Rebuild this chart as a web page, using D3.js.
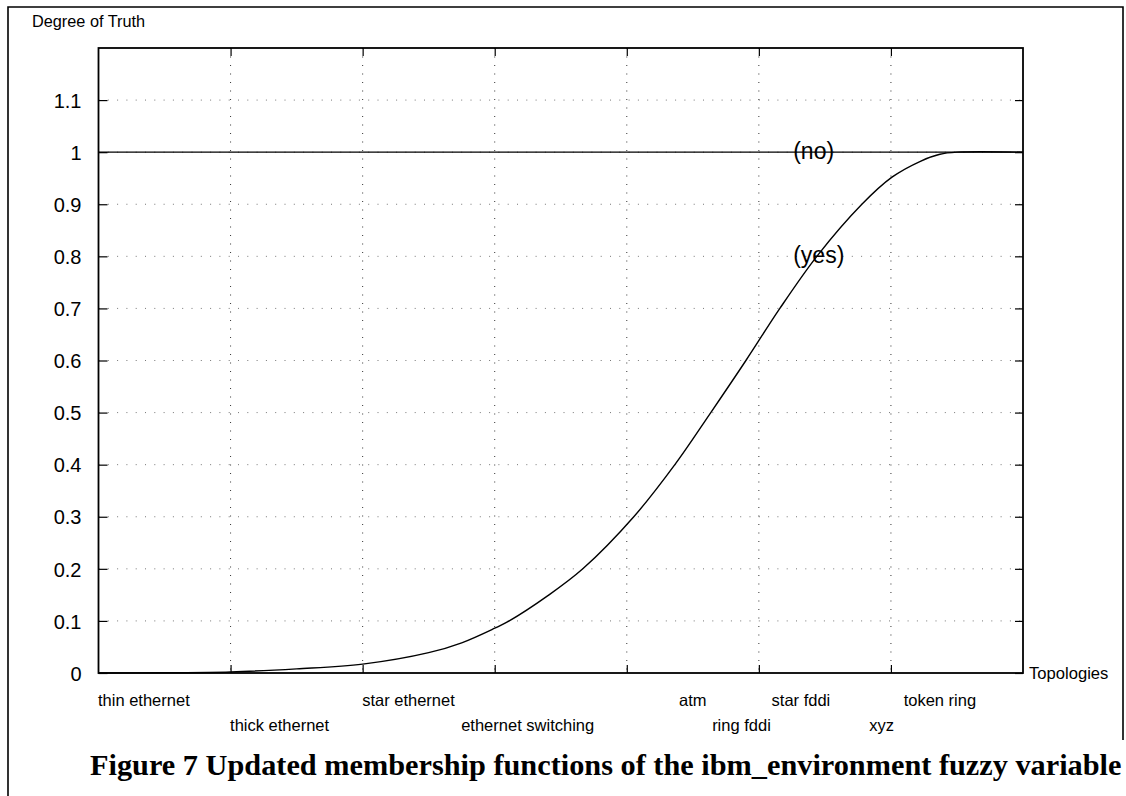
<!DOCTYPE html>
<html>
<head>
<meta charset="utf-8">
<script src="https://cdn.jsdelivr.net/npm/d3@7/dist/d3.min.js"></script>
<style>
  html, body { margin: 0; padding: 0; background: #fff; }
  svg { display: block; }
</style>
</head>
<body>
<div id="chart"></div>
<script>
// ---- data ----
const yTicks = [0, 0.1, 0.2, 0.3, 0.4, 0.5, 0.6, 0.7, 0.8, 0.9, 1, 1.1];
const yTickLabels = ["0", "0.1", "0.2", "0.3", "0.4", "0.5", "0.6", "0.7", "0.8", "0.9", "1", "1.1"];
const xGrid = [1, 2, 3, 4, 5, 6];
const topologies = ["thin ethernet", "thick ethernet", "star ethernet", "ethernet switching", "atm", "ring fddi", "star fddi", "xyz", "token ring"];
const topologyPos = [0, 1.0, 2.0, 2.75, 4.4, 4.65, 5.1, 5.84, 6.1];
const topologyRow = [0, 1, 0, 1, 0, 1, 0, 1, 0];
// "(yes)" membership curve
const yesX = [0, 0.5, 1.0, 1.5, 2.0, 2.5, 2.75, 3.0, 3.11, 3.4, 3.667, 4.053, 4.364, 4.636, 4.902, 5.159, 5.439, 5.78, 6.008, 6.227, 6.371, 6.5, 7.0];
const yesY = [0, 0.0004, 0.002, 0.008, 0.017, 0.039, 0.058, 0.086, 0.1, 0.148, 0.2, 0.3, 0.4, 0.5, 0.6, 0.7, 0.8, 0.9, 0.952, 0.983, 0.996, 1.0, 1.0];
// "(no)" membership line
const noX = [0, 7];
const noY = [1, 1];
const seriesLabels = [{text: "(no)", x: 5.26, y: 1}, {text: "(yes)", x: 5.26, y: 0.8}];

// ---- layout ----
const W = 1126, H = 796;
const L = 98.5, R = 1023, T = 48, B = 673;

const svg = d3.select("#chart").append("svg").attr("width", W).attr("height", H);
svg.append("rect").attr("width", W).attr("height", H).attr("fill", "#fff");

const x = d3.scaleLinear().domain([0, 7]).range([L, R]);
const y = d3.scaleLinear().domain([0, 1.2]).range([B, T]);

// outer frame
svg.append("path")
  .attr("d", `M8,796 L8,7 L1123,7 L1123,740`)
  .attr("fill", "none").attr("stroke", "#000").attr("stroke-width", 1.6);

// grid
const g = svg.append("g");
g.selectAll(".hg").data(yTicks.filter(v => v > 0)).enter().append("line")
  .attr("x1", L).attr("x2", R).attr("y1", d => y(d)).attr("y2", d => y(d))
  .attr("stroke", "#777").attr("stroke-width", 1).attr("stroke-dasharray", "1,8.3");
g.selectAll(".vg").data(xGrid).enter().append("line")
  .attr("x1", d => x(d)).attr("x2", d => x(d)).attr("y1", T).attr("y2", B)
  .attr("stroke", "#333").attr("stroke-width", 1).attr("stroke-dasharray", "1,7.5");

// axes via d3 axis generators
const yAxisL = d3.axisLeft(y).tickValues(yTicks).tickFormat((d, i) => yTickLabels[i]).tickSize(-9).tickPadding(17);
const yAxisR = d3.axisRight(y).tickValues(yTicks).tickFormat("").tickSize(-8);
const xAxisB = d3.axisBottom(x).tickValues(xGrid).tickFormat("").tickSize(-8);
const xAxisT = d3.axisTop(x).tickValues(xGrid).tickFormat("").tickSize(-8);

const gl = svg.append("g").attr("transform", `translate(${L},0)`).call(yAxisL);
gl.select(".domain").remove();
gl.selectAll(".tick line").attr("stroke", "#000").attr("stroke-width", 1.2);
gl.selectAll(".tick text").attr("font-family", "Liberation Sans, Arial, Helvetica, sans-serif")
  .attr("font-size", 20).attr("fill", "#000").attr("dy", "0.36em");

const gr = svg.append("g").attr("transform", `translate(${R},0)`).call(yAxisR);
gr.select(".domain").remove();
gr.selectAll(".tick line").attr("stroke", "#000").attr("stroke-width", 1.2);

const gb = svg.append("g").attr("transform", `translate(0,${B})`).call(xAxisB);
gb.select(".domain").remove();
gb.selectAll(".tick line").attr("stroke", "#000").attr("stroke-width", 1.2);

const gt = svg.append("g").attr("transform", `translate(0,${T})`).call(xAxisT);
gt.select(".domain").remove();
gt.selectAll(".tick line").attr("stroke", "#000").attr("stroke-width", 1.2);

// box
svg.append("rect").attr("x", L).attr("y", T).attr("width", R - L).attr("height", B - T)
  .attr("fill", "none").attr("stroke", "#000").attr("stroke-width", 1.8);

// series
const lineStraight = d3.line().x(d => x(d[0])).y(d => y(d[1]));
const lineSmooth = d3.line().x(d => x(d[0])).y(d => y(d[1])).curve(d3.curveCatmullRom.alpha(0.5));
svg.append("path").datum(noX.map((v, i) => [v, noY[i]]))
  .attr("d", lineStraight).attr("fill", "none").attr("stroke", "#000").attr("stroke-width", 1.1);
svg.append("path").datum(yesX.map((v, i) => [v, yesY[i]]))
  .attr("d", lineSmooth).attr("fill", "none").attr("stroke", "#000").attr("stroke-width", 1.4);

// series labels
svg.selectAll(".sl").data(seriesLabels).enter().append("text")
  .attr("x", d => x(d.x)).attr("y", d => y(d.y) + 7)
  .attr("font-family", "Liberation Sans, Arial, Helvetica, sans-serif")
  .attr("font-size", 23).attr("fill", "#000").text(d => d.text);

// topology labels
svg.selectAll(".tl").data(topologies).enter().append("text")
  .attr("x", (d, i) => x(topologyPos[i]) - 0.5)
  .attr("y", (d, i) => topologyRow[i] === 0 ? 706 : 731)
  .attr("font-family", "Liberation Sans, Arial, Helvetica, sans-serif")
  .attr("font-size", 16.5).attr("fill", "#000").text(d => d);

// axis titles
svg.append("text").attr("x", 32).attr("y", 27)
  .attr("font-family", "Liberation Sans, Arial, Helvetica, sans-serif")
  .attr("font-size", 16.3).attr("fill", "#000").text("Degree of Truth");
svg.append("text").attr("x", 1029).attr("y", 679)
  .attr("font-family", "Liberation Sans, Arial, Helvetica, sans-serif")
  .attr("font-size", 16.6).attr("fill", "#000").text("Topologies");

// caption
svg.append("text").attr("x", 90).attr("y", 775)
  .attr("font-family", "Liberation Serif, 'Times New Roman', Times, serif")
  .attr("font-weight", "bold").attr("font-size", 30.3).attr("fill", "#000")
  .text("Figure 7 Updated membership functions of the ibm_environment fuzzy variable");
</script>
</body>
</html>
